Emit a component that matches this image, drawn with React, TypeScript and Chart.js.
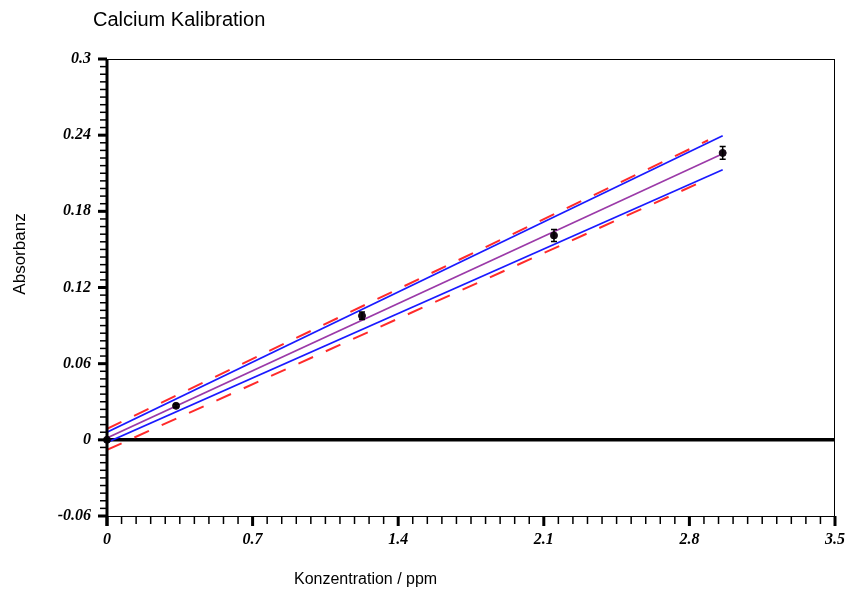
import React, { useEffect, useRef } from 'react';
import { Chart, registerables } from 'chart.js';

Chart.register(...registerables);

// ---- data ----
const conc = [0, 0.332, 1.226, 2.149, 2.96];
const absorb = [0, 0.0268, 0.0977, 0.161, 0.226];
const absorbErr = [0.0008, 0.0012, 0.003, 0.0047, 0.005];

const fitX = [0, 2.96];
const fitY = [0.0015, 0.2253];
const confUpperY = [0.006, 0.2396];
const confLowerY = [-0.002, 0.2128];
const predX = [0, 2.89];
const predUpperY = [0.0087, 0.236];
const predLowerY = [-0.0079, 0.2055];

const xTickValues = [0, 0.7, 1.4, 2.1, 2.8, 3.5];
const xTickLabels = ['0', '0.7', '1.4', '2.1', '2.8', '3.5'];
const yTickValues = [-0.06, 0, 0.06, 0.12, 0.18, 0.24, 0.3];
const yTickLabels = ['-0.06', '0', '0.06', '0.12', '0.18', '0.24', '0.3'];
const minorDivisions = 10;

const titleText = 'Calcium Kalibration';
const xTitle = 'Konzentration / ppm';
const yTitle = 'Absorbanz';

const labelFor = (vals: number[], labels: string[], v: number) => {
  const i = vals.findIndex((t) => Math.abs(t - v) < 1e-6);
  return i >= 0 ? labels[i] : '';
};

const pts = (xs: number[], ys: number[]) => xs.map((x, i) => ({ x, y: ys[i] }));

const framePlugin = {
  id: 'frame',
  beforeDraw(chart: any) {
    const ctx = chart.ctx;
    ctx.save();
    ctx.fillStyle = '#ffffff';
    ctx.fillRect(0, 0, chart.width, chart.height);
    ctx.restore();
  },
  beforeDatasetsDraw(chart: any) {
    const { ctx, chartArea, scales } = chart;
    const y0 = scales.y.getPixelForValue(0);
    ctx.save();
    ctx.strokeStyle = '#000';
    ctx.lineWidth = 3.5;
    ctx.beginPath();
    ctx.moveTo(chartArea.left, y0);
    ctx.lineTo(chartArea.right, y0);
    ctx.stroke();
    ctx.restore();
  },
  afterDatasetsDraw(chart: any) {
    const { ctx, scales } = chart;
    ctx.save();
    ctx.strokeStyle = '#000';
    ctx.lineWidth = 1.5;
    conc.forEach((c, i) => {
      const x = scales.x.getPixelForValue(c);
      const yt = scales.y.getPixelForValue(absorb[i] + absorbErr[i]);
      const yb = scales.y.getPixelForValue(absorb[i] - absorbErr[i]);
      ctx.beginPath();
      ctx.moveTo(x, yt);
      ctx.lineTo(x, yb);
      ctx.moveTo(x - 3, yt);
      ctx.lineTo(x + 3, yt);
      ctx.moveTo(x - 3, yb);
      ctx.lineTo(x + 3, yb);
      ctx.stroke();
    });
    ctx.restore();
  },
  afterDraw(chart: any) {
    const { ctx, chartArea, scales } = chart;
    const { left, right, top, bottom } = chartArea;
    ctx.save();
    ctx.strokeStyle = '#000';
    ctx.lineWidth = 1;
    ctx.beginPath();
    ctx.moveTo(left, top + 0.5);
    ctx.lineTo(right, top + 0.5);
    ctx.moveTo(right - 0.5, top);
    ctx.lineTo(right - 0.5, bottom);
    ctx.moveTo(left, bottom + 0.5);
    ctx.lineTo(right, bottom + 0.5);
    ctx.stroke();
    ctx.lineWidth = 3;
    ctx.beginPath();
    ctx.moveTo(left, top);
    ctx.lineTo(left, bottom + 10);
    ctx.stroke();

    for (let k = 0; k < yTickValues.length; k++) {
      const v0 = yTickValues[k];
      const py = scales.y.getPixelForValue(v0);
      ctx.lineWidth = 3;
      ctx.beginPath();
      ctx.moveTo(left - 9, py);
      ctx.lineTo(left, py);
      ctx.stroke();
      if (k < yTickValues.length - 1) {
        const step = (yTickValues[k + 1] - v0) / minorDivisions;
        ctx.lineWidth = 1.5;
        for (let m = 1; m < minorDivisions; m++) {
          const p = scales.y.getPixelForValue(v0 + step * m);
          ctx.beginPath();
          ctx.moveTo(left - 7, p);
          ctx.lineTo(left, p);
          ctx.stroke();
        }
      }
    }
    for (let k = 0; k < xTickValues.length; k++) {
      const v0 = xTickValues[k];
      const px = scales.x.getPixelForValue(v0);
      ctx.lineWidth = 3;
      ctx.beginPath();
      ctx.moveTo(px, bottom);
      ctx.lineTo(px, bottom + 10);
      ctx.stroke();
      if (k < xTickValues.length - 1) {
        const step = (xTickValues[k + 1] - v0) / minorDivisions;
        ctx.lineWidth = 1.5;
        for (let m = 1; m < minorDivisions; m++) {
          const p = scales.x.getPixelForValue(v0 + step * m);
          ctx.beginPath();
          ctx.moveTo(p, bottom);
          ctx.lineTo(p, bottom + 8);
          ctx.stroke();
        }
      }
    }

    ctx.fillStyle = '#000';
    ctx.textAlign = 'left';
    ctx.textBaseline = 'alphabetic';
    ctx.font = '20px "Liberation Sans", Arial, sans-serif';
    ctx.fillText(titleText, 93, 26);
    ctx.font = '16px "Liberation Sans", Arial, sans-serif';
    ctx.fillText(xTitle, 294, 584);
    ctx.translate(25, 254);
    ctx.rotate(-Math.PI / 2);
    ctx.textAlign = 'center';
    ctx.font = '17px "Liberation Sans", Arial, sans-serif';
    ctx.fillText(yTitle, 0, 0);
    ctx.restore();
  },
};

export default function App() {
  const ref = useRef<HTMLCanvasElement>(null);
  useEffect(() => {
    if (!ref.current) return;
    const tickFont = { family: '"Liberation Serif", "Times New Roman", serif', size: 16, style: 'italic' as const, weight: 'bold' as const };
    const chart = new Chart(ref.current, {
      type: 'scatter',
      data: {
        datasets: [
          {
            label: 'Messwerte',
            data: pts(conc, absorb),
            backgroundColor: '#140814',
            borderColor: '#140814',
            pointRadius: 3.5,
            pointStyle: 'circle',
            showLine: false,
            clip: false as any,
          },
          {
            label: 'Regression',
            type: 'line',
            data: pts(fitX, fitY),
            borderColor: '#9b3aa8',
            borderWidth: 1.6,
            pointRadius: 0,
            fill: false,
          },
          {
            label: 'Konfidenz oben',
            type: 'line',
            data: pts(fitX, confUpperY),
            borderColor: '#1a1aff',
            borderWidth: 1.7,
            pointRadius: 0,
            fill: false,
          },
          {
            label: 'Konfidenz unten',
            type: 'line',
            data: pts(fitX, confLowerY),
            borderColor: '#1a1aff',
            borderWidth: 1.7,
            pointRadius: 0,
            fill: false,
          },
          {
            label: 'Prognose oben',
            type: 'line',
            data: pts(predX, predUpperY),
            borderColor: '#ff2a2a',
            borderWidth: 2,
            borderDash: [16, 14],
            pointRadius: 0,
            fill: false,
          },
          {
            label: 'Prognose unten',
            type: 'line',
            data: pts(predX, predLowerY),
            borderColor: '#ff2a2a',
            borderWidth: 2,
            borderDash: [16, 14],
            pointRadius: 0,
            fill: false,
          },
        ] as any,
      },
      options: {
        animation: false,
        responsive: false,
        devicePixelRatio: 1,
        layout: { padding: { left: 0, top: 59, right: 0, bottom: 0 } },
        plugins: { legend: { display: false }, tooltip: { enabled: false }, title: { display: false } },
        scales: {
          x: {
            type: 'linear',
            min: 0,
            max: 3.5,
            grid: { display: false, drawTicks: false },
            border: { display: false },
            afterBuildTicks: (s: any) => { s.ticks = xTickValues.map((v) => ({ value: v })); },
            afterFit: (s: any) => { s.height = 77; s.paddingRight = 12; s.paddingLeft = 0; },
            ticks: {
              autoSkip: false,
              maxRotation: 0,
              padding: 14,
              color: '#000',
              font: tickFont,
              callback: (v: any) => labelFor(xTickValues, xTickLabels, Number(v)),
            },
          },
          y: {
            type: 'linear',
            min: -0.06,
            max: 0.3,
            grid: { display: false, drawTicks: false },
            border: { display: false },
            afterBuildTicks: (s: any) => { s.ticks = yTickValues.map((v) => ({ value: v })); },
            afterFit: (s: any) => { s.width = 107; s.paddingTop = 0; s.paddingBottom = 0; },
            ticks: {
              autoSkip: false,
              padding: 16,
              color: '#000',
              font: tickFont,
              callback: (v: any) => labelFor(yTickValues, yTickLabels, Number(v)),
            },
          },
        },
      } as any,
      plugins: [framePlugin],
    });
    return () => chart.destroy();
  }, []);
  return (
    <div style={{ position: 'absolute', left: 0, top: 0, width: 847, height: 593, background: '#fff' }}>
      <canvas ref={ref} width={847} height={593} style={{ display: 'block', width: 847, height: 593 }} />
    </div>
  );
}
